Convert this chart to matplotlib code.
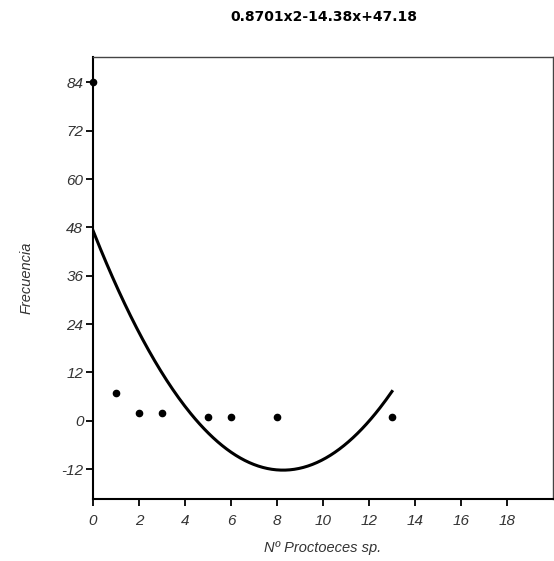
import numpy as np
import matplotlib.pyplot as plt

# observed data
x_obs = [0, 1, 2, 3, 5, 6, 8, 13]
y_obs = [84, 7, 2, 2, 1, 1, 1, 1]

# fitted quadratic coefficients
coef = [0.8701, -14.38, 47.18]
title = '0.8701x2-14.38x+47.18'

xticks = [0, 2, 4, 6, 8, 10, 12, 14, 16, 18]
yticks = [-12, 0, 12, 24, 36, 48, 60, 72, 84]

plt.rcParams['font.family'] = ['Liberation Sans', 'DejaVu Sans']
plt.rcParams['axes.unicode_minus'] = False

fig = plt.figure(figsize=(5.54, 5.61), dpi=100)
ax = fig.add_axes([0.168, 0.1105, 0.830, 0.788])

xs = np.linspace(0, max(x_obs), 200)
ax.plot(xs, np.polyval(coef, xs), color='black', lw=2.2)
ax.plot(x_obs, y_obs, 'o', color='black', ms=4.5, clip_on=False)

ax.set_xlim(0, 20)
ax.set_ylim(-19.4, 90.3)
ax.set_xticks(xticks)
ax.set_yticks(yticks)
ax.tick_params(direction='out', length=5, width=1.3, labelsize=11,
               labelcolor='#333333')
ax.tick_params(axis='x', pad=6)
ax.tick_params(axis='y', pad=2)
for lab in ax.get_xticklabels() + ax.get_yticklabels():
    lab.set_style('italic')

for s in ['left', 'bottom']:
    ax.spines[s].set_linewidth(1.5)
for s in ['top', 'right']:
    ax.spines[s].set_linewidth(1.0)
    ax.spines[s].set_color('#444444')

ax.set_xlabel('Nº Proctoeces sp.', fontsize=10.5, style='italic',
              color='#333333', labelpad=9)
ax.set_ylabel('Frecuencia', fontsize=10.5, style='italic',
              color='#333333', labelpad=20)

fig.text(0.584, 0.969, title, ha='center', va='center', fontsize=10,
         fontweight='bold', family='DejaVu Sans')

fig.savefig('out.png')
